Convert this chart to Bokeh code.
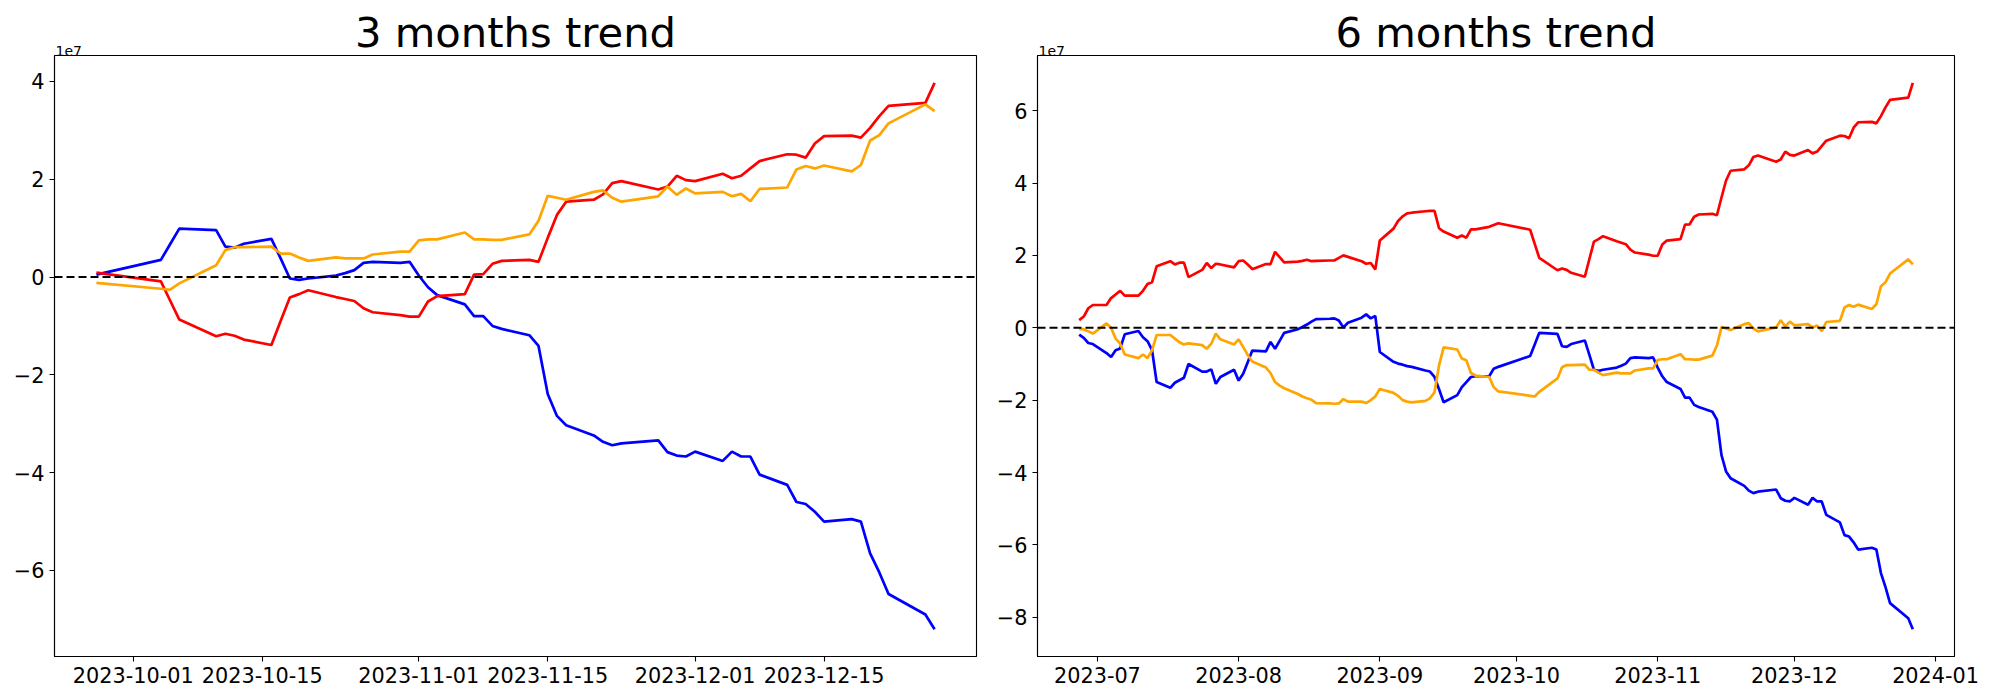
import pandas as pd
from bokeh.plotting import figure
from bokeh.layouts import row
from bokeh.models import Range1d, FixedTicker, CustomJSTickFormatter, Span, Title
from bokeh.embed import file_html
from bokeh.resources import INLINE

UNIT = 1e7  # values below are in units of 1e7

# ---------------- 3 months trend ----------------
dates_3m = [
    "2023-09-27", "2023-10-04", "2023-10-05", "2023-10-06", "2023-10-10", "2023-10-11", "2023-10-12",
    "2023-10-13", "2023-10-16", "2023-10-17", "2023-10-18", "2023-10-19", "2023-10-20", "2023-10-23",
    "2023-10-24", "2023-10-25", "2023-10-26", "2023-10-27", "2023-10-30", "2023-10-31",
    "2023-11-01", "2023-11-02", "2023-11-03", "2023-11-06", "2023-11-07", "2023-11-08", "2023-11-09",
    "2023-11-10", "2023-11-13", "2023-11-14", "2023-11-15", "2023-11-16", "2023-11-17", "2023-11-20",
    "2023-11-21", "2023-11-22", "2023-11-23", "2023-11-27", "2023-11-28", "2023-11-29", "2023-11-30",
    "2023-12-01", "2023-12-04", "2023-12-05", "2023-12-06", "2023-12-07", "2023-12-08", "2023-12-11",
    "2023-12-12", "2023-12-13", "2023-12-14", "2023-12-15", "2023-12-18", "2023-12-19", "2023-12-20",
    "2023-12-21", "2023-12-22", "2023-12-26", "2023-12-27",
]
blue_3m = [
    0.05, 0.35, 0.67, 0.99, 0.96, 0.62, 0.60, 0.68, 0.78, 0.38, -0.03, -0.06, -0.03, 0.03, 0.08, 0.14, 0.29, 0.31, 0.29, 0.31,
    0.03, -0.21, -0.37, -0.56, -0.80, -0.80, -1.00, -1.06, -1.19, -1.41, -2.39, -2.84, -3.03, -3.24, -3.37, -3.44, -3.40,
    -3.34, -3.58, -3.65, -3.67,
    -3.57, -3.76, -3.57, -3.67, -3.67, -4.04, -4.25, -4.60, -4.64, -4.80, -5.00, -4.95, -5.00, -5.65, -6.04, -6.48, -6.90, -7.20,
]
red_3m = [
    0.09, -0.09, -0.48, -0.87, -1.21, -1.16, -1.20, -1.28, -1.39, -0.90, -0.42, -0.35, -0.27, -0.41, -0.45, -0.49, -0.64,
    -0.72, -0.78, -0.81,
    -0.81, -0.50, -0.39, -0.35, 0.05, 0.06, 0.27, 0.33, 0.35, 0.31, 0.80, 1.27, 1.54, 1.58, 1.69, 1.92, 1.96, 1.79, 1.85,
    2.07, 1.98,
    1.96, 2.11, 2.02, 2.07, 2.22, 2.37, 2.51, 2.50, 2.44, 2.73, 2.88, 2.89, 2.85, 3.05, 3.29, 3.50, 3.56, 3.97,
]
orange_3m = [
    -0.12, -0.24, -0.26, -0.13, 0.24, 0.55, 0.61, 0.61, 0.62, 0.48, 0.48, 0.40, 0.33, 0.40, 0.38, 0.38, 0.38, 0.46, 0.52, 0.52,
    0.75, 0.77, 0.77, 0.91, 0.77, 0.77, 0.76, 0.76, 0.87, 1.15, 1.66, 1.62, 1.58, 1.74, 1.77, 1.62, 1.54, 1.65, 1.85, 1.68, 1.81,
    1.71, 1.74, 1.65, 1.70, 1.55, 1.80, 1.83, 2.20, 2.27, 2.22, 2.28, 2.16, 2.29, 2.79, 2.90, 3.14, 3.53, 3.39,
]

# ---------------- 6 months trend ----------------
dates_6m = [
    "2023-06-27", "2023-06-28", "2023-06-29", "2023-06-30",
    "2023-07-03", "2023-07-04", "2023-07-05", "2023-07-06", "2023-07-07", "2023-07-10", "2023-07-11", "2023-07-12",
    "2023-07-13", "2023-07-14", "2023-07-17", "2023-07-18", "2023-07-19", "2023-07-20", "2023-07-21", "2023-07-24",
    "2023-07-25", "2023-07-26", "2023-07-27", "2023-07-28", "2023-07-31",
    "2023-08-01", "2023-08-02", "2023-08-03", "2023-08-04", "2023-08-07", "2023-08-08", "2023-08-09", "2023-08-10",
    "2023-08-11", "2023-08-14", "2023-08-15", "2023-08-16", "2023-08-17", "2023-08-18", "2023-08-21", "2023-08-22",
    "2023-08-23", "2023-08-24", "2023-08-25", "2023-08-28", "2023-08-29", "2023-08-30", "2023-08-31",
    "2023-09-01", "2023-09-04", "2023-09-05", "2023-09-06", "2023-09-07", "2023-09-08", "2023-09-11", "2023-09-12",
    "2023-09-13", "2023-09-14", "2023-09-15", "2023-09-18", "2023-09-19", "2023-09-20", "2023-09-21", "2023-09-22",
    "2023-09-25", "2023-09-26", "2023-09-27",
    "2023-10-04", "2023-10-05", "2023-10-06", "2023-10-10", "2023-10-11", "2023-10-12",
    "2023-10-13", "2023-10-16", "2023-10-17", "2023-10-18", "2023-10-19", "2023-10-20", "2023-10-23",
    "2023-10-24", "2023-10-25", "2023-10-26", "2023-10-27", "2023-10-30", "2023-10-31",
    "2023-11-01", "2023-11-02", "2023-11-03", "2023-11-06", "2023-11-07", "2023-11-08", "2023-11-09",
    "2023-11-10", "2023-11-13", "2023-11-14", "2023-11-15", "2023-11-16", "2023-11-17", "2023-11-20",
    "2023-11-21", "2023-11-22", "2023-11-23", "2023-11-27", "2023-11-28", "2023-11-29", "2023-11-30",
    "2023-12-01", "2023-12-04", "2023-12-05", "2023-12-06", "2023-12-07", "2023-12-08", "2023-12-11",
    "2023-12-12", "2023-12-13", "2023-12-14", "2023-12-15", "2023-12-18", "2023-12-19", "2023-12-20",
    "2023-12-21", "2023-12-22", "2023-12-26", "2023-12-27",
]
red_6m = [
    0.21, 0.31, 0.54, 0.63,
    0.63, 0.82, 0.92, 1.02, 0.89, 0.89, 1.02, 1.21, 1.26, 1.70, 1.84, 1.75, 1.80, 1.80, 1.40, 1.60, 1.79, 1.65, 1.77, 1.75, 1.67,
    1.84, 1.86, 1.75, 1.62, 1.76, 1.76, 2.10, 1.95, 1.81, 1.83, 1.85, 1.88, 1.84, 1.85, 1.86, 1.86, 1.93, 2.00, 1.96, 1.84,
    1.77, 1.79, 1.61,
    2.41, 2.74, 2.95, 3.08, 3.16, 3.18, 3.22, 3.23, 3.23, 2.75, 2.66, 2.49, 2.55, 2.49, 2.72, 2.72, 2.79, 2.84, 2.89,
    2.71, 2.32, 1.93, 1.59, 1.64, 1.60, 1.52, 1.41, 1.90, 2.38, 2.45, 2.53, 2.39, 2.35, 2.31, 2.16, 2.08, 2.02, 1.99,
    1.99, 2.30, 2.41, 2.45, 2.85, 2.86, 3.07, 3.13, 3.15, 3.11, 3.60, 4.07, 4.34, 4.38, 4.49, 4.72, 4.76, 4.59, 4.65, 4.87, 4.78,
    4.76, 4.91, 4.82, 4.87, 5.02, 5.17, 5.31, 5.30, 5.24, 5.53, 5.68, 5.69, 5.65, 5.85, 6.09, 6.30, 6.36, 6.77,
]
orange_6m = [
    -0.04, -0.04, -0.10, -0.16,
    0.12, 0.00, -0.30, -0.44, -0.74, -0.84, -0.74, -0.84, -0.62, -0.20, -0.20, -0.30, -0.40, -0.46, -0.43, -0.48, -0.58,
    -0.44, -0.16, -0.32, -0.46,
    -0.32, -0.53, -0.75, -0.93, -1.10, -1.25, -1.50, -1.60, -1.67, -1.83, -1.90, -1.95, -1.99, -2.08, -2.09, -2.10, -2.09,
    -1.97, -2.04, -2.04, -2.08, -2.00, -1.90,
    -1.69, -1.80, -1.88, -2.00, -2.04, -2.06, -2.02, -1.95, -1.78, -1.04, -0.54, -0.60, -0.85, -0.90, -1.25, -1.32, -1.36,
    -1.64, -1.76,
    -1.88, -1.90, -1.77, -1.40, -1.09, -1.03, -1.03, -1.02, -1.16, -1.16, -1.24, -1.31, -1.24, -1.26, -1.26, -1.26, -1.18,
    -1.12, -1.12,
    -0.89, -0.87, -0.87, -0.73, -0.87, -0.87, -0.88, -0.88, -0.77, -0.49, 0.02, -0.02, -0.06, 0.10, 0.13, -0.02, -0.10, 0.01,
    0.21, 0.04, 0.17,
    0.07, 0.10, 0.01, 0.06, -0.09, 0.16, 0.19, 0.56, 0.63, 0.58, 0.64, 0.52, 0.65, 1.15, 1.26, 1.50, 1.89, 1.75,
]
blue_6m = [
    -0.19, -0.28, -0.42, -0.45,
    -0.70, -0.81, -0.62, -0.57, -0.18, -0.09, -0.26, -0.37, -0.62, -1.50, -1.66, -1.52, -1.45, -1.38, -1.00, -1.21, -1.21,
    -1.15, -1.55, -1.36, -1.16,
    -1.46, -1.27, -0.95, -0.63, -0.65, -0.39, -0.58, -0.36, -0.14, -0.04, 0.02, 0.09, 0.17, 0.24, 0.25, 0.26, 0.20, 0.01,
    0.14, 0.28, 0.37, 0.26, 0.33,
    -0.67, -0.94, -0.99, -1.02, -1.06, -1.08, -1.18, -1.21, -1.36, -1.70, -2.06, -1.86, -1.64, -1.50, -1.36, -1.34, -1.34,
    -1.13, -1.08,
    -0.78, -0.46, -0.14, -0.17, -0.51, -0.53, -0.45, -0.35, -0.75, -1.16, -1.19, -1.16, -1.10, -1.05, -0.99, -0.84, -0.82,
    -0.84, -0.82,
    -1.10, -1.34, -1.50, -1.69, -1.93, -1.93, -2.13, -2.19, -2.32, -2.54, -3.52, -3.97, -4.16, -4.37, -4.50, -4.57, -4.53,
    -4.47, -4.71, -4.78, -4.80,
    -4.70, -4.89, -4.70, -4.80, -4.80, -5.17, -5.38, -5.73, -5.77, -5.93, -6.13, -6.08, -6.13, -6.78, -7.17, -7.61, -8.03, -8.33,
]

# ---------------- ticks ----------------
xticks_3m = ["2023-10-01", "2023-10-15", "2023-11-01", "2023-11-15", "2023-12-01", "2023-12-15"]
xticks_6m = ["2023-07-01", "2023-08-01", "2023-09-01", "2023-10-01", "2023-11-01", "2023-12-01", "2024-01-01"]
yticks_3m = [-6, -4, -2, 0, 2, 4]
yticks_6m = [-8, -6, -4, -2, 0, 2, 4, 6]

for d, b, r, o in [(dates_3m, blue_3m, red_3m, orange_3m), (dates_6m, blue_6m, red_6m, orange_6m)]:
    assert len(d) == len(b) == len(r) == len(o), (len(d), len(b), len(r), len(o))

FONT = "DejaVu Sans"


def ms(s):
    return pd.Timestamp(s).value / 1e6


def make(title, dates, blue, red, orange, xticks, yticks, nchars, width, bl, br):
    xs = [ms(d) for d in dates]
    x0, x1 = min(xs), max(xs)
    xp = 0.05 * (x1 - x0)
    allv = [v * UNIT for v in blue + red + orange]
    y0, y1 = min(allv), max(allv)
    yp = 0.05 * (y1 - y0)
    p = figure(width=width, height=692, x_axis_type="datetime", output_backend="svg",
               toolbar_location=None, x_range=Range1d(x0 - xp, x1 + xp),
               y_range=Range1d(y0 - yp, y1 + yp), title=None,
               min_border_left=bl, min_border_right=br, min_border_top=55, min_border_bottom=36)
    # offset text "1e7" just above the frame, then the main title above it
    p.add_layout(Title(text="1e7", align="left", standoff=0, offset=1, text_font=FONT,
                       text_font_size="14px", text_font_style="normal", text_color="black"), "above")
    p.add_layout(Title(text=title, align="center", standoff=-26, text_font=FONT,
                       text_font_size="41.7px", text_font_style="normal", text_color="black"), "above")
    p.xgrid.visible = False
    p.ygrid.visible = False
    p.outline_line_color = "black"
    p.outline_line_width = 1.1
    p.background_fill_color = "white"
    p.border_fill_color = "white"

    p.xaxis.ticker = FixedTicker(ticks=[ms(t) for t in xticks], minor_ticks=[])
    p.yaxis.ticker = FixedTicker(ticks=[t * UNIT for t in yticks], minor_ticks=[])
    p.xaxis.formatter = CustomJSTickFormatter(
        code="return new Date(tick).toISOString().slice(0, %d);" % nchars)
    p.yaxis.formatter = CustomJSTickFormatter(
        code="const v = Math.round(tick / 1e7); return v < 0 ? '\u2212' + Math.abs(v) : String(v);")
    for ax in (p.xaxis[0], p.yaxis[0]):
        ax.major_label_text_font = FONT
        ax.major_label_text_font_size = "20.8px"
        ax.major_label_text_color = "black"
        ax.major_tick_in = 0
        ax.major_tick_out = 5
        ax.minor_tick_in = 0
        ax.minor_tick_out = 0
        ax.major_tick_line_color = "black"
        ax.major_tick_line_width = 1.1
        ax.axis_line_color = "black"
        ax.axis_line_width = 1.1
        ax.major_label_standoff = 5

    dts = pd.to_datetime(dates)
    p.line(dts, [v * UNIT for v in blue], line_color="blue", line_width=2.7)
    p.line(dts, [v * UNIT for v in red], line_color="red", line_width=2.7)
    p.line(dts, [v * UNIT for v in orange], line_color="orange", line_width=2.7)
    p.add_layout(Span(location=0, dimension="width", line_color="black",
                      line_dash="8 4", line_width=2))
    return p


p1 = make("3 months trend", dates_3m, blue_3m, red_3m, orange_3m, xticks_3m, yticks_3m, 10, 993, 54, 17)
p2 = make("6 months trend", dates_6m, blue_6m, red_6m, orange_6m, xticks_6m, yticks_6m, 7, 991, 38, 30)

layout = row(p1, p2)
open("out.html", "w").write(file_html(layout, INLINE))
